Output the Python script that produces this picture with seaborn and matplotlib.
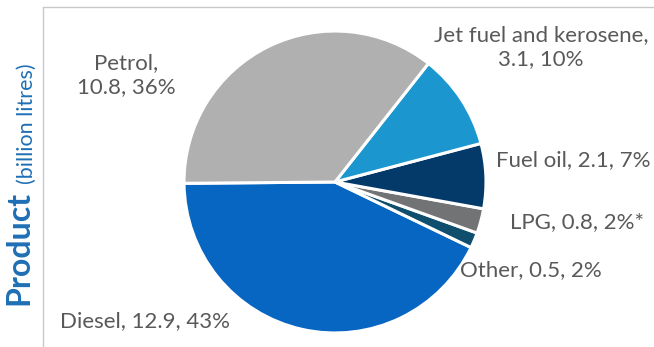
"""
Pie chart of fuel product volumes (billion litres).
"""

import matplotlib

matplotlib.use("Agg")
import matplotlib.pyplot as plt
import seaborn as sns
from matplotlib.lines import Line2D

# data, in drawing order (counter-clockwise from the left)
products = ["Diesel", "Other", "LPG", "Fuel oil", "Jet fuel and kerosene", "Petrol"]
volumes = [12.9, 0.5, 0.8, 2.1, 3.1, 10.8]
label_texts = [
    "Diesel, 12.9, 43%",
    "Other, 0.5, 2%",
    "LPG, 0.8, 2%*",
    "Fuel oil, 2.1, 7%",
    "Jet fuel and kerosene,\n3.1, 10%",
    "Petrol,\n10.8, 36%",
]
colors = ["#0766c1", "#0f4f6d", "#727375", "#033a69", "#1c96cf", "#b0b0b0"]

# label positions in pixels (x from left, y from top)
label_pos = [(145, 321), (531, 270), (577, 222), (573, 160), (541, 47), (126, 75)]

W, H = 654, 347
sns.set_theme(style="white")
plt.rcParams["font.family"] = ["Lato", "DejaVu Sans"]

fig = plt.figure(figsize=(W / 100, H / 100), dpi=100)
fig.patch.set_facecolor("white")

# pie axes: centre (335, 182) px, radius 154 px
cx, cy, r = 335, 182, 154
ax = fig.add_axes([(cx - r) / W, (H - cy - r) / H, 2 * r / W, 2 * r / H])
ax.pie(
    volumes,
    colors=colors,
    startangle=180.5,
    counterclock=True,
    wedgeprops={"edgecolor": "white", "linewidth": 2.2},
)
ax.set_xlim(-1.02, 1.02)
ax.set_ylim(-1.02, 1.02)
ax.axis("off")

for txt, (x, y) in zip(label_texts, label_pos):
    fig.text(
        x / W, 1 - y / H, txt, ha="center", va="center",
        fontsize=16, color="#595959", linespacing=1.2,
    )

# frame lines
fig.add_artist(Line2D([43 / W, 43 / W], [0, 1 - 7 / H], color="#c8c8c8", lw=1))
fig.add_artist(Line2D([43 / W, 1], [1 - 7 / H, 1 - 7 / H], color="#c8c8c8", lw=1))

# y label
fig.text(33 / W, 1 - 248 / H, "Product", rotation=90, ha="right", va="center",
         fontsize=23, fontweight="bold", color="#1f6fb5")
fig.text(37 / W, 1 - 124 / H, "(billion litres)", rotation=90, ha="right",
         va="center", fontsize=15.5, color="#1f6fb5")

fig.savefig("out.png", dpi=100)
